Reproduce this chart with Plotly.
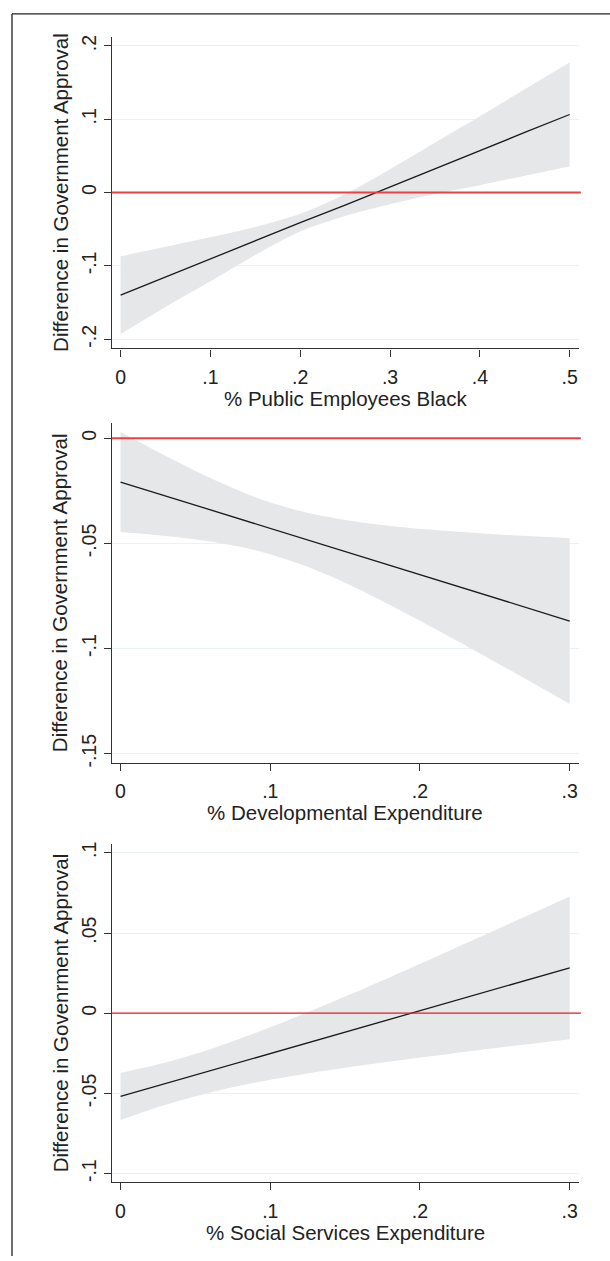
import plotly.graph_objects as go

# ---------------- data ----------------
# Panel 1: % Public Employees Black
x1 = [0.0, 0.05, 0.10, 0.15, 0.20, 0.25, 0.30, 0.35, 0.40, 0.45, 0.50]
est1 = [-0.140, -0.115, -0.091, -0.066, -0.041, -0.017, 0.008, 0.033, 0.057, 0.082, 0.1065]
hi1 = [-0.087, -0.074, -0.061, -0.047, -0.029, -0.002, 0.032, 0.068, 0.104, 0.141, 0.1775]
lo1 = [-0.193, -0.156, -0.121, -0.085, -0.053, -0.032, -0.016, -0.002, 0.010, 0.023, 0.0355]

# Panel 2: % Developmental Expenditure
x2 = [0.0, 0.03, 0.06, 0.09, 0.12, 0.15, 0.18, 0.21, 0.24, 0.27, 0.30]
est2 = [-0.0208, -0.0274, -0.0340, -0.0406, -0.0472, -0.0538, -0.0605, -0.0671, -0.0737, -0.0803, -0.0869]
hi2 = [0.0030, -0.0083, -0.0189, -0.0280, -0.0346, -0.0389, -0.0417, -0.0436, -0.0451, -0.0464, -0.0475]
lo2 = [-0.0446, -0.0465, -0.0491, -0.0532, -0.0598, -0.0687, -0.0793, -0.0906, -0.1023, -0.1142, -0.1263]

# Panel 3: % Social Services Expenditure
x3 = [0.0, 0.03, 0.06, 0.09, 0.12, 0.15, 0.18, 0.21, 0.24, 0.27, 0.30]
est3 = [-0.0519, -0.0439, -0.0359, -0.0278, -0.0198, -0.0118, -0.0038, 0.0042, 0.0123, 0.0203, 0.0283]
hi3 = [-0.0372, -0.0307, -0.0224, -0.0124, -0.0013, 0.0104, 0.0225, 0.0349, 0.0475, 0.0601, 0.0728]
lo3 = [-0.0666, -0.0571, -0.0494, -0.0432, -0.0383, -0.0340, -0.0301, -0.0265, -0.0229, -0.0195, -0.0162]

xtitles = ["% Public Employees Black", "% Developmental Expenditure", "% Social Services Expenditure"]
ytitles = ["Difference in Government Approval", "Difference in Government Approval",
           "Difference in Govenrment Approval"]

xtickvals1 = [0, 0.1, 0.2, 0.3, 0.4, 0.5]
xticktext1 = ["0", ".1", ".2", ".3", ".4", ".5"]
xtickvals23 = [0, 0.1, 0.2, 0.3]
xticktext23 = ["0", ".1", ".2", ".3"]
ytickvals1 = [-0.2, -0.1, 0, 0.1, 0.2]
yticktext1 = ["-.2", "-.1", "0", ".1", ".2"]
ytickvals2 = [-0.15, -0.1, -0.05, 0]
yticktext2 = ["-.15", "-.1", "-.05", "0"]
ytickvals3 = [-0.1, -0.05, 0, 0.05, 0.1]
yticktext3 = ["-.1", "-.05", "0", ".05", ".1"]

# ---------------- styling ----------------
W, H = 610, 1261
FONT = "Liberation Sans, Arial, Helvetica, sans-serif"
TXT = "#222222"
AX = "#333333"
GRID = "#eaf2f3"
BAND = "#e6e7e9"

# pixel layout -> paper
xl, xr = 111.7, 579.0
panels_px = [(35.0, 348.3), (423.3, 765.0), (846.7, 1186.7)]
xdom = [xl / W, xr / W]
ydoms = [[1 - b / H, 1 - t / H] for (t, b) in panels_px]

fig = go.Figure()

data = [(x1, est1, hi1, lo1), (x2, est2, hi2, lo2), (x3, est3, hi3, lo3)]
yranges = [[-0.2125, 0.2125], [-0.1543, 0.0073], [-0.1053, 0.1055]]
xranges = [[-0.0099, 0.5104], [-0.0059, 0.3062], [-0.0059, 0.3062]]
yticks = [(ytickvals1, yticktext1), (ytickvals2, yticktext2), (ytickvals3, yticktext3)]
xticks = [(xtickvals1, xticktext1), (xtickvals23, xticktext23), (xtickvals23, xticktext23)]
red_styles = [("rgb(236,64,66)", 2.0), ("rgb(236,64,66)", 2.0), ("rgb(226,28,34)", 1.3)]

for i, (xs, est, hi, lo) in enumerate(data):
    n = "" if i == 0 else str(i + 1)
    xa, ya = "x" + n, "y" + n
    fig.add_trace(go.Scatter(x=xs, y=lo, mode="lines",
                             line=dict(width=0, color=BAND, shape="spline", smoothing=0.8),
                             xaxis=xa, yaxis=ya, showlegend=False, hoverinfo="skip"))
    fig.add_trace(go.Scatter(x=xs, y=hi, mode="lines",
                             line=dict(width=0, color=BAND, shape="spline", smoothing=0.8),
                             fill="tonexty", fillcolor=BAND,
                             xaxis=xa, yaxis=ya, showlegend=False, hoverinfo="skip"))
    fig.add_trace(go.Scatter(x=xs, y=est, mode="lines", line=dict(width=1.3, color="#1a1a1a"),
                             xaxis=xa, yaxis=ya, showlegend=False))
    # zero reference line
    rc, rw = red_styles[i]
    fig.add_shape(type="line", xref=xa + " domain", yref=ya, x0=0, x1=1.004, y0=0, y1=0,
                  line=dict(color=rc, width=rw), layer="above")

    xaxis = dict(domain=xdom, anchor=ya, range=xranges[i], tickmode="array",
                 tickvals=xticks[i][0], ticktext=xticks[i][1],
                 showline=True, linecolor=AX, linewidth=1.3, ticks="outside",
                 ticklen=7, tickwidth=1.2, tickcolor=AX, showgrid=False, zeroline=False,
                 tickfont=dict(family=FONT, size=19.5, color=TXT), ticklabelstandoff=4)
    yaxis = dict(domain=ydoms[i], anchor=xa, range=yranges[i], tickmode="array",
                 tickvals=yticks[i][0], ticktext=yticks[i][1], tickangle=-90,
                 showline=True, linecolor=AX, linewidth=1.3, ticks="outside",
                 ticklen=7, tickwidth=1.2, tickcolor=AX, showgrid=True, gridcolor=GRID,
                 gridwidth=1, zeroline=False,
                 tickfont=dict(family=FONT, size=19.5, color=TXT))
    fig.layout["xaxis" + n] = xaxis
    fig.layout["yaxis" + n] = yaxis

    t, b = panels_px[i]
    # x title
    fig.add_annotation(text=xtitles[i], xref="paper", yref="paper",
                       x=(xl + xr) / 2 / W, y=1 - (b + 50.5) / H,
                       xanchor="center", yanchor="middle", showarrow=False,
                       font=dict(family=FONT, size=20.5, color=TXT))
    # y title
    fig.add_annotation(text=ytitles[i], xref="paper", yref="paper",
                       x=60.3 / W, y=1 - (t + b) / 2 / H, textangle=-90,
                       xanchor="center", yanchor="middle", showarrow=False,
                       font=dict(family=FONT, size=20.5, color=TXT))

# outer frame (left and top edges visible)
fig.add_shape(type="line", xref="paper", yref="paper", x0=12 / W, x1=12 / W, y0=0, y1=1 - 12 / H,
              line=dict(color="#222222", width=1.3))
fig.add_shape(type="line", xref="paper", yref="paper", x0=12 / W, x1=1, y0=1 - 12 / H, y1=1 - 12 / H,
              line=dict(color="#222222", width=1.3))

fig.update_layout(width=W, height=H, margin=dict(l=0, r=0, t=0, b=0),
                  paper_bgcolor="white", plot_bgcolor="white", showlegend=False)

fig.write_html("out.html", config={"displayModeBar": False},
               post_script="document.body.style.margin='0';document.body.style.overflow='hidden';")
